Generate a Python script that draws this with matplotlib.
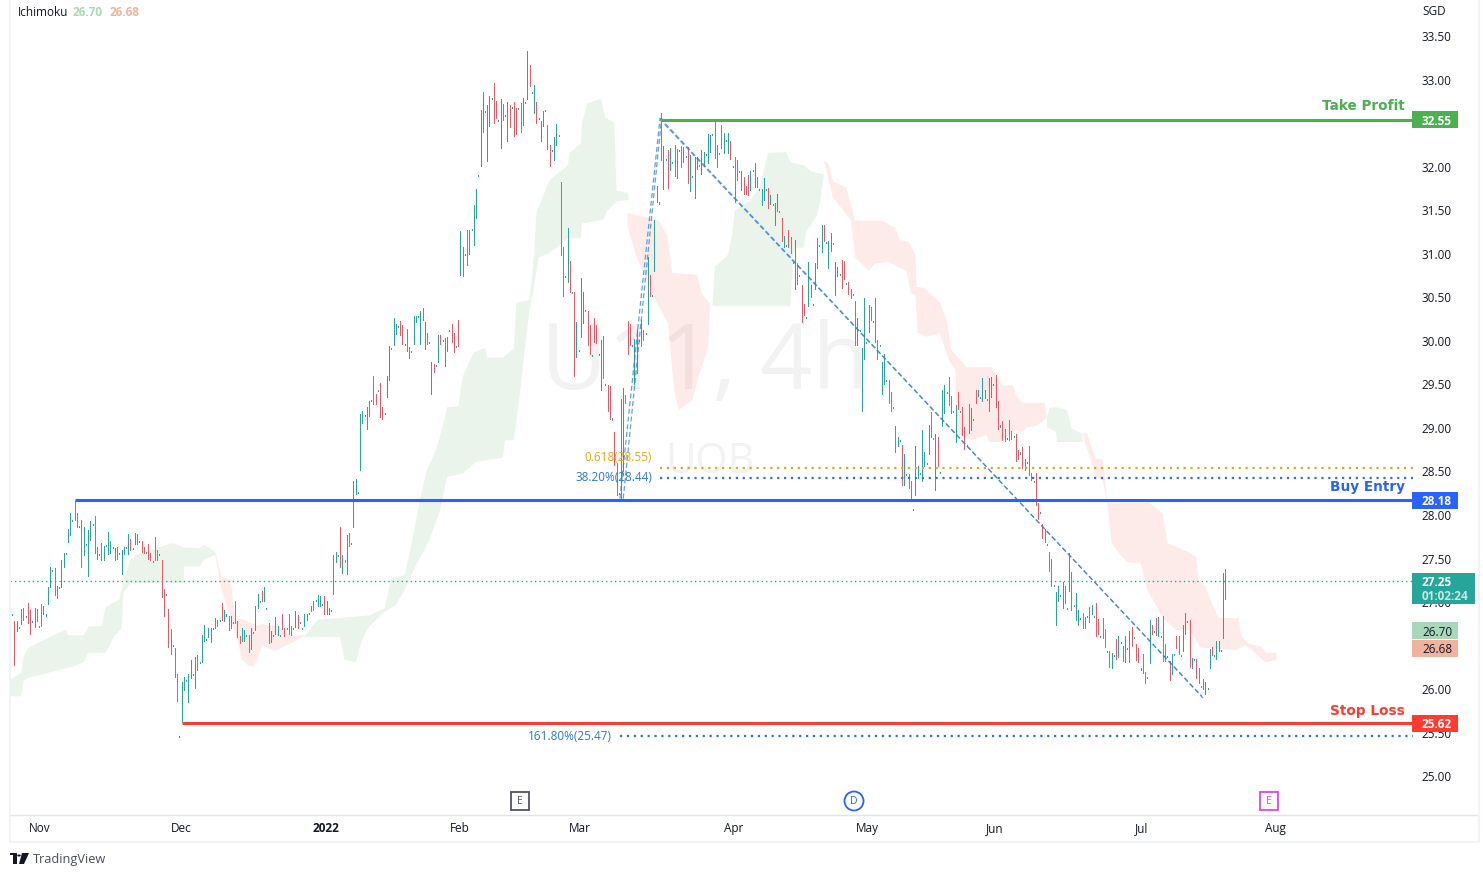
import matplotlib
matplotlib.use("Agg")
import matplotlib.pyplot as plt
from matplotlib.lines import Line2D
from matplotlib.patches import Rectangle, Polygon, Circle, Ellipse
from matplotlib.transforms import ScaledTranslation

# ---------- data ----------
bar_top = [26.92,26.88,26.79,26.80,26.73,26.93,26.95,26.85,27.00,26.92,26.80,26.95,26.93,26.74,26.99,26.97,26.87,27.19,27.41,27.38,
27.40,27.20,27.19,27.50,27.58,27.58,27.85,28.03,27.96,28.17,28.04,27.89,27.96,27.87,27.68,27.84,27.94,27.91,28.00,27.65,
27.57,27.69,27.66,27.67,27.82,27.71,27.64,27.63,27.65,27.58,27.61,27.65,27.64,27.79,27.74,27.63,27.81,27.79,27.71,27.71,
27.64,27.59,27.68,27.58,27.48,27.76,27.61,27.56,27.50,27.16,27.11,26.93,26.70,26.52,26.49,26.19,25.47,26.10,26.15,26.12,
26.19,26.35,26.19,26.38,26.40,26.32,26.64,26.75,26.59,26.71,26.71,26.71,26.83,26.81,26.81,27.00,26.92,26.87,26.85,26.85,
26.78,27.02,26.80,26.62,26.72,26.69,26.63,26.64,26.71,26.67,26.97,27.11,27.03,27.14,27.18,26.95,26.77,26.68,26.64,26.84,
26.74,26.64,26.88,26.72,26.72,26.88,26.74,26.72,26.91,26.86,26.78,26.72,26.88,26.87,26.89,26.97,27.03,27.04,27.09,27.08,
26.99,27.08,27.03,26.95,26.92,27.55,27.59,27.55,27.88,27.55,27.49,27.78,27.80,27.69,28.40,28.43,28.28,29.17,29.21,29.16,
29.25,29.32,29.33,29.61,29.40,29.45,29.53,29.25,29.18,29.61,29.95,29.93,30.27,30.21,30.18,30.24,30.19,29.98,30.15,29.94,
29.89,30.30,30.30,30.30,30.35,30.39,30.23,30.10,30.00,29.77,29.75,29.73,30.08,30.08,30.02,30.04,30.06,30.14,30.21,30.10,
29.95,30.25,31.27,31.09,31.01,31.28,31.28,31.30,31.57,31.76,31.92,32.66,32.87,32.65,32.72,32.82,32.80,32.97,32.77,32.55,
32.79,32.73,32.60,32.75,32.72,32.70,32.75,32.69,32.68,32.74,32.80,32.75,33.34,33.18,32.87,32.95,32.75,32.57,32.54,32.65,
32.66,32.49,32.26,32.20,32.35,32.50,32.38,31.84,31.09,30.76,31.31,30.93,30.57,30.57,30.23,29.91,30.73,30.57,30.37,30.35,
30.19,29.85,30.27,30.19,29.86,30.02,30.07,29.52,29.50,29.49,29.12,28.97,28.61,28.27,29.34,29.47,29.39,30.24,30.21,29.96,
30.03,30.15,30.02,30.25,30.14,30.10,30.97,30.77,30.54,31.40,31.79,31.60,32.63,32.25,32.10,32.20,32.23,32.07,32.26,32.21,
32.20,32.25,32.24,32.13,32.24,32.15,31.90,32.12,32.12,32.03,32.20,32.18,32.16,32.39,32.38,32.39,32.56,32.26,32.17,32.49,
32.40,32.32,32.40,32.31,32.02,32.12,32.09,31.96,31.96,31.89,31.79,31.92,31.96,31.97,32.05,31.89,31.75,31.76,31.88,31.76,
31.77,31.69,31.58,31.59,31.70,31.50,31.42,31.22,31.11,31.28,31.20,30.92,31.17,30.91,30.77,30.65,30.44,30.29,30.92,30.65,
30.43,30.91,31.19,31.11,31.34,31.34,31.15,31.16,31.25,31.13,30.92,30.86,30.78,30.94,30.93,30.68,30.69,30.61,30.55,30.47,
30.27,30.14,29.93,30.50,30.00,30.42,30.40,30.24,30.50,30.02,29.96,29.77,29.86,29.56,29.56,29.42,29.25,29.03,28.91,28.87,
28.81,28.71,28.48,28.48,28.40,28.08,28.80,28.58,28.49,28.99,28.73,28.61,29.05,29.20,28.90,28.94,28.91,28.51,29.45,29.50,
29.42,29.60,29.38,29.21,29.28,29.42,29.21,29.25,29.02,28.82,29.29,29.24,29.11,29.45,29.45,29.37,29.59,29.45,29.34,29.59,
29.60,29.52,29.62,29.32,29.04,29.09,29.00,28.90,29.10,28.98,28.92,28.94,28.76,28.73,28.79,28.66,28.62,28.80,28.49,28.40,
28.49,28.15,28.05,27.91,27.85,27.68,27.59,27.51,27.21,27.13,27.20,27.09,27.24,27.20,26.95,27.58,27.36,26.98,27.12,26.92,
26.83,26.89,26.84,26.85,26.96,26.98,26.85,27.00,26.82,26.62,26.83,26.70,26.45,26.45,26.43,26.40,26.59,26.62,26.55,26.51,
26.62,26.49,26.68,26.73,26.61,26.53,26.49,26.25,26.42,26.21,26.15,26.81,26.75,26.68,26.83,26.84,26.62,26.85,26.53,26.39,
26.34,26.42,26.42,26.62,26.62,26.41,26.75,26.89,26.80,26.81,26.37,26.36,26.36,26.26,26.05,26.13,26.10,26.03,26.47,26.50,
26.41,26.57,26.57,26.46,27.35,27.39]
bar_bot = [26.81,26.88,26.29,26.68,26.73,26.76,26.81,26.85,26.77,26.65,26.80,26.73,26.80,26.74,26.74,26.88,26.87,26.99,27.18,27.38,
27.09,27.06,27.19,27.19,27.42,27.58,27.70,27.78,27.96,27.96,27.88,27.89,27.42,27.55,27.68,27.31,27.72,27.91,27.58,27.51,
27.57,27.50,27.49,27.67,27.56,27.58,27.64,27.49,27.51,27.58,27.34,27.56,27.64,27.56,27.61,27.63,27.68,27.68,27.71,27.59,
27.58,27.59,27.51,27.49,27.48,27.50,27.50,27.56,27.07,26.85,27.11,26.50,26.42,26.52,26.15,25.88,25.47,25.64,26.00,26.12,
25.86,26.14,26.19,26.03,26.23,26.32,26.33,26.57,26.59,26.61,26.55,26.71,26.71,26.74,26.81,26.81,26.79,26.87,26.69,26.71,
26.78,26.77,26.61,26.54,26.56,26.56,26.63,26.44,26.47,26.67,26.69,26.94,27.03,27.02,27.02,26.95,26.54,26.55,26.64,26.65,
26.64,26.64,26.70,26.62,26.72,26.65,26.64,26.72,26.73,26.72,26.78,26.72,26.74,26.81,26.89,26.91,26.92,27.04,26.97,26.97,
26.99,26.88,26.88,26.87,26.92,27.11,27.47,27.55,27.41,27.35,27.49,27.34,27.66,27.69,27.88,28.25,28.28,28.53,29.07,29.16,
29.00,29.15,29.33,29.29,29.29,29.45,29.14,29.11,29.18,29.37,29.56,29.93,29.96,30.09,30.18,30.08,29.98,29.98,29.90,29.82,
29.89,29.98,30.23,30.30,29.98,30.25,29.92,29.98,30.00,29.40,29.65,29.73,29.77,29.98,30.02,29.72,29.90,30.14,30.00,29.88,
29.95,29.95,30.77,30.76,31.01,30.88,31.01,31.30,31.11,31.42,31.92,32.02,32.41,32.65,32.08,32.48,32.80,32.51,32.57,32.55,
32.23,32.55,32.60,32.31,32.47,32.70,32.36,32.39,32.68,32.41,32.49,32.75,32.79,32.94,32.87,32.63,32.51,32.57,32.31,32.48,
32.66,32.21,32.02,32.20,32.09,32.26,32.38,31.00,30.53,30.76,30.69,30.57,30.57,29.61,29.83,29.91,30.06,30.22,30.37,29.96,
29.86,29.85,30.00,29.99,29.86,29.45,29.59,29.52,29.21,29.11,29.12,28.59,28.24,28.27,28.18,28.52,29.30,29.86,29.96,29.96,
29.52,29.64,30.02,29.95,30.02,30.10,30.21,30.53,30.54,30.81,31.61,31.60,32.09,31.76,32.10,31.77,31.97,32.07,31.90,31.88,
32.20,32.01,32.06,32.13,31.82,31.73,31.90,31.65,31.98,32.03,31.93,32.02,32.16,32.05,32.18,32.39,32.11,32.01,32.17,32.23,
32.17,32.32,32.17,32.10,32.02,31.61,31.86,31.96,31.74,31.70,31.70,31.69,31.74,31.97,31.78,31.78,31.75,31.57,31.63,31.76,
31.54,31.58,31.58,31.34,31.50,31.50,31.16,31.09,31.11,31.09,31.02,30.92,30.61,30.66,30.77,30.23,30.31,30.29,30.41,30.52,
30.43,30.61,30.85,31.11,31.03,31.16,31.15,30.85,31.04,31.13,30.54,30.76,30.78,30.62,30.72,30.68,30.55,30.50,30.55,29.96,
29.96,30.14,29.21,29.80,30.00,30.11,30.25,30.24,30.00,29.80,29.96,29.40,29.52,29.56,29.30,29.21,29.25,28.73,28.80,28.87,
28.36,28.36,28.48,28.32,28.20,28.08,28.24,28.44,28.49,28.40,28.57,28.61,28.71,28.91,28.90,28.30,28.57,28.51,29.03,29.18,
29.42,29.28,29.18,29.21,28.85,29.23,29.21,28.93,28.77,28.82,28.95,28.99,29.11,29.30,29.38,29.37,29.32,29.36,29.34,29.21,
29.37,29.52,29.25,29.00,29.04,28.87,28.86,28.90,28.87,28.89,28.92,28.63,28.66,28.73,28.55,28.53,28.62,28.47,28.41,28.40,
28.13,27.97,28.05,27.75,27.70,27.68,27.37,27.20,27.21,26.75,27.03,27.09,26.94,27.00,26.95,27.14,26.92,26.98,26.81,26.75,
26.83,26.72,26.72,26.85,26.78,26.88,26.85,26.62,26.65,26.62,26.60,26.50,26.45,26.27,26.26,26.40,26.36,26.38,26.55,26.34,
26.32,26.49,26.32,26.51,26.61,26.35,26.32,26.25,26.20,26.08,26.15,26.31,26.65,26.68,26.63,26.62,26.62,26.34,26.34,26.39,
26.12,26.19,26.42,26.48,26.42,26.41,26.45,26.65,26.80,26.27,26.26,26.36,26.14,26.08,26.05,26.01,25.96,26.03,26.26,26.40,
26.41,26.36,26.45,26.46,26.60,27.05]
# bars drawn red (close below open); every other bar is teal
down_idx = [2,6,8,9,12,14,20,29,30,32,38,41,48,54,57,59,60,62,63,65,66,68,69,71,72,74,75,84,92,95,98,101,102,103,107,113,116,122,123,125,126,129,137,
140,141,148,152,163,164,166,167,175,176,178,179,185,187,190,193,198,199,201,203,205,217,218,221,224,226,227,229,233,236,241,242,247,248,251,253,259,260,262,263,266,
268,269,271,272,276,277,278,284,287,292,295,298,301,304,316,319,323,325,329,330,331,335,340,346,349,350,353,355,356,365,373,374,376,377,379,386,388,389,394,395,397,400,
403,404,413,416,421,422,425,427,428,430,433,437,442,443,445,446,448,449,451,452,454,455,457,458,460,461,463,464,466,467,473,476,481,484,487,488,490,491,493,496,499,
503,505,506,508,509,512,514,517,518,520,523,524,529,532,533,539]

cloud_g1_up = [(0,26.12),(5,26.2),(6,26.38),(8,26.48),(12,26.54),(23,26.67),(25,26.70),(26,26.63),(33,26.63),(35,26.73),(41,26.74),(43,26.96),(49,27.04),(51,27.27),(54,27.50),(57,27.56),(69,27.66),(73,27.69),(78,27.64),(85,27.63),(87,27.67),(92,27.59)]
cloud_g1_lo = [(0,25.93),(5,25.93),(6,26.10),(8,26.14),(17,26.20),(28,26.27),(33,26.32),(35,26.43),(43,26.43),(47,26.63),(50,26.71),(51,27.12),(54,27.23),(78,27.23),(78,27.42),(85,27.42),(87,27.50),(92,27.55)]
cloud_r1_up = [(92,27.59),(95,27.30),(99,27.27),(101,26.81),(104,26.82),(111,26.74),(113,26.76),(120,26.73),(126,26.63),(132,26.63)]
cloud_r1_lo = [(92,27.55),(95,27.15),(99,26.81),(102,26.58),(104,26.35),(107,26.28),(109,26.27),(111,26.35),(113,26.52),(115,26.49),(119,26.45),(126,26.54),(132,26.62)]
cloud_g2_up = [(132,26.62),(138,26.81),(148,26.83),(161,26.86),(168,26.94),(171,27.29),(177,27.32),(180,27.67),(183,28.07),(184,28.22),(187,28.53),(191,28.76),(194,29.03),(196,29.25),(201,29.26),(203,29.60),(208,29.88),(213,29.93),(214,29.82),(221,29.82),(226,29.93),(227,30.45),(233,30.48),(235,30.98),(236,31.48),(242,31.86),(250,32.02),(251,32.17),(256,32.28),(256.5,32.52),(259,32.74),(265,32.79),(267,32.58),(271,32.51),(272,31.74),(277,31.71),(277.5,31.63)]
cloud_g2_lo = [(132,26.61),(148,26.61),(150,26.35),(155,26.32),(158,26.58),(161,26.73),(168,26.90),(173,26.98),(177,27.15),(181,27.38),(188,27.72),(193,28.07),(194,28.22),(196,28.45),(203,28.49),(209,28.62),(221,28.67),(222,28.87),(226,28.87),(229,29.48),(231,29.94),(233,30.37),(235,30.63),(237,30.97),(242,31.02),(245,31.08),(250,31.19),(256,31.19),(256.5,31.36),(266,31.40),(268,31.51),(272,31.61),(277.5,31.63)]
cloud_r2_up = [(277,31.48),(291,31.39),(295,31.20),(297,30.79),(308,30.77),(310,30.57),(314,30.43)]
cloud_r2_lo = [(277,31.32),(281,30.97),(290,30.45),(295,30.22),(298,29.41),(300,29.22),(306,29.33),(309,29.62),(313,29.93),(314,30.43)]
cloud_g3_up = [(315,30.42),(316,30.86),(322,31.0),(324,31.26),(325,31.51),(332,31.63),(336,31.77),(340,32.17),(348,32.18),(350,32.06),(356,32.03),(359,31.96),(365,31.92)]
cloud_g3_lo = [(315,30.41),(350,30.41),(351,30.94),(352,31.08),(356,31.08),(357,31.26),(362,31.46),(363,31.57),(365,31.92)]
cloud_r3_up = [(365,32.08),(367,32.05),(369,31.84),(375,31.77),(379,31.39),(391,31.39),(397,31.31),(399,31.17),(403,31.15),(406,31.0),(406.5,30.63),(410,30.62),(413,30.54),(417,30.45),(420,30.25),(422,29.91),(429,29.71),(440,29.71),(445,29.50),(450,29.50),(451,29.39),(454,29.30),(464,29.30),(465,29.13)]
cloud_r3_lo = [(366,31.97),(369,31.66),(377,31.40),(379,30.97),(385,30.82),(388,30.90),(394,30.92),(398,30.86),(402,30.82),(404,30.56),(406,30.54),(407,30.11),(411,30.06),(417,30.10),(421,29.79),(424,29.68),(424.5,29.07),(426,28.93),(431,28.87),(438,28.93),(439,28.85),(444,28.85),(451,28.99),(454,28.96),(456,29.02),(460,29.03),(465,29.13)]
cloud_g4_up = [(465,29.13),(466,29.24),(469,29.25),(474,29.22),(476,29.01),(481,28.94)]
cloud_g4_lo = [(465,29.02),(469,28.97),(469.5,28.85),(481,28.85)]
cloud_r4_up = [(481,28.95),(483,28.95),(485,28.79),(487,28.66),(490,28.65),(491,28.45),(492,28.15),(511,28.15),(517,28.03),(519,27.69),(528,27.59),(532,27.53),(533,27.27),(536,27.19),(539,27.00),(542,26.83),(551,26.83),(552,26.63),(555,26.54),(561,26.50),(563,26.43),(568,26.43)]
cloud_r4_lo = [(482,28.85),(484,28.70),(487,28.45),(490,28.41),(492,28.15),(494,27.69),(498,27.55),(501,27.47),(507,27.46),(510,27.15),(512,27.06),(517,26.83),(523,26.69),(529,26.69),(534,26.49),(550,26.46),(554,26.52),(557,26.46),(563,26.32),(568,26.35)]

month_pos = [13.5,76.7,141.7,201.8,255.6,324.7,384.5,441.8,507.4,567.3]
month_labels = ["Nov","Dec","2022","Feb","Mar","Apr","May","Jun","Jul","Aug"]
# 32.50 and 26.50 sit fully behind price badges in the reference, so they are not listed
price_ticks = [25.0,25.5,26.0,27.0,27.5,28.0,28.5,29.0,29.5,30.0,30.5,31.0,31.5,32.0,33.0,33.5]

take_profit, buy_entry, stop_loss = 32.55, 28.18, 25.62
last_price, senkou_a, senkou_b = 27.25, 26.70, 26.68
fib_618, fib_382, fib_1618 = 28.55, 28.44, 25.47
leg_up_a = [(273.5,28.20),(291.5,32.57)]
leg_up_b = [(275.0,28.20),(292.2,32.57)]
leg_dn_a = [(291.5,32.57),(535,25.91)]
leg_dn_b = [(293.5,32.50),(534.5,25.93)]

# ---------- style ----------
plt.rcParams["font.family"] = ["Open Sans", "DejaVu Sans"]
TEAL, RED = "#26a69a", "#f7525f"
FS = 8.5
W, H = 1483, 877
PXX, PXY = 2.23, 87.1
fig = plt.figure(figsize=(W/100, H/100), dpi=100, facecolor="white")
ax = fig.add_axes([10/W, 1-815/H, 1403/W, 815/H])
ax.set_xlim(0, 1403/PXX)
ax.set_ylim(33.5-778/PXY, 33.5+37/PXY)
for s in ax.spines.values():
    s.set_visible(False)
ax.yaxis.tick_right()
ax.set_yticks(price_ticks)
ax.set_yticklabels([f"{p:.2f}" for p in price_ticks], fontsize=FS, color="#131722")
ax.tick_params(axis="y", length=0, pad=6)
ax.set_xticks(month_pos)
ax.set_xticklabels(month_labels, fontsize=FS, color="#131722")
ax.tick_params(axis="x", length=0, pad=4.8)
for lab in ax.get_xticklabels():
    if lab.get_text() == "2022":
        lab.set_fontweight("bold")
up1px = ScaledTranslation(0, 1/100, fig.dpi_scale_trans)
for lab in ax.get_yticklabels():
    lab.set_transform(lab.get_transform() + up1px)

# watermark
ax.text(311.6, 29.73, "U11, 4h", fontsize=66, color="#f2f2f3", ha="center", va="center", zorder=0, family="Open Sans")
ax.text(314, 28.62, "UOB", fontsize=30, color="#f2f2f3", ha="center", va="center", zorder=0, family="Open Sans")

# cloud (translucent, so the watermark shows through)
def cloud(up, lo, col):
    ax.add_patch(Polygon(list(up) + list(reversed(lo)), closed=True, facecolor=col, edgecolor="none", alpha=0.1, zorder=1))
GREEN_C, RED_C = "#3a9a44", "#f23c2e"
for u, l in [(cloud_g1_up, cloud_g1_lo), (cloud_g2_up, cloud_g2_lo), (cloud_g3_up, cloud_g3_lo), (cloud_g4_up, cloud_g4_lo)]:
    cloud(u, l, GREEN_C)
for u, l in [(cloud_r1_up, cloud_r1_lo), (cloud_r2_up, cloud_r2_lo), (cloud_r3_up, cloud_r3_lo), (cloud_r4_up, cloud_r4_lo)]:
    cloud(u, l, RED_C)

# last price dotted line
ax.axhline(last_price, color=TEAL, lw=1, ls=(0, (1, 2.2)), zorder=2)

# bars
down = set(down_idx)
xs_t, t_t, b_t, xs_r, t_r, b_r = [], [], [], [], [], []
for i, (t, b) in enumerate(zip(bar_top, bar_bot)):
    if i in down and t != b:
        xs_r.append(i); t_r.append(t); b_r.append(b)
    else:
        xs_t.append(i); t_t.append(t); b_t.append(b if b != t else t-0.012)
ax.vlines(xs_t, b_t, t_t, color=TEAL, lw=0.5, zorder=3, antialiased=False)
ax.vlines(xs_r, b_r, t_r, color=RED, lw=0.5, zorder=3, antialiased=False)

# fib lines
XMAX = 1403/PXX
DASH = (0, (4, 2.2))
for seg in (leg_up_a, leg_up_b, leg_dn_a, leg_dn_b):
    ax.plot([p[0] for p in seg], [p[1] for p in seg], color="#2f7fdc", lw=0.9, ls=DASH, alpha=0.75, zorder=4)
ax.plot([291.5, XMAX], [fib_618]*2, color="#e8a317", lw=1.6, ls=(0, (1, 2.1)), zorder=4)
ax.plot([291.5, XMAX], [fib_382]*2, color="#2a76d8", lw=1.6, ls=(0, (1, 2.1)), zorder=4)
ax.plot([273.5, XMAX], [fib_1618]*2, color="#2a76d8", lw=1.6, ls=(0, (1, 2.1)), zorder=4)
ax.text(288, fib_618+0.12, "0.618(28.55)", color="#e8a317", fontsize=FS, ha="right", va="center", zorder=5)
ax.text(288, fib_382, "38.20%(28.44)", color="#2a76d8", fontsize=FS, ha="right", va="center", zorder=5)
ax.text(270, fib_1618, "161.80%(25.47)", color="#2a76d8", fontsize=FS, ha="right", va="center", zorder=5)

# levels
BLUE, GREEN, SL = "#2962ff", "#4caf50", "#ff3b30"
ax.plot([291.5, XMAX], [take_profit]*2, color=GREEN, lw=2.2, solid_capstyle="butt", zorder=6)
ax.plot([29, XMAX], [buy_entry]*2, color=BLUE, lw=2.2, solid_capstyle="butt", zorder=6)
ax.plot([77, XMAX], [stop_loss]*2, color=SL, lw=2.2, solid_capstyle="butt", zorder=6)
LBLX = 1394.5/PXX
LFS = 9.8
ax.text(LBLX, take_profit+0.16, "Take Profit", color=GREEN, fontsize=LFS, fontweight="bold", ha="right", va="center", family="DejaVu Sans", zorder=7)
ax.text(LBLX, buy_entry+0.15, "Buy Entry", color=BLUE, fontsize=LFS, fontweight="bold", ha="right", va="center", family="DejaVu Sans", zorder=7)
ax.text(LBLX, stop_loss+0.14, "Stop Loss", color=SL, fontsize=LFS, fontweight="bold", ha="right", va="center", family="DejaVu Sans", zorder=7)

# price badges; the two cloud badges are pushed apart so they do not overlap
def badge(price, txt, col, tcol, w=46, h=17, bold=True, shift=0):
    y = price + shift/PXY
    ax.add_patch(Rectangle((XMAX-0.3, y-h/2/PXY), w/PXX, h/PXY, facecolor=col, edgecolor="none", clip_on=False, zorder=8))
    ax.text(XMAX+9/PXX, y, txt, color=tcol, fontsize=FS, va="center_baseline", ha="left", fontweight="bold" if bold else "normal", clip_on=False, zorder=9)
badge(take_profit, "32.55", GREEN, "white")
badge(buy_entry, "28.18", BLUE, "white")
badge(stop_loss, "25.62", SL, "white")
badge(senkou_a, "26.70", "#a8d8b9", "#131722", bold=False, shift=-1.7)
badge(senkou_b, "26.68", "#f0b49e", "#131722", bold=False, shift=-17)
ax.add_patch(Rectangle((XMAX-0.3, last_price-23/PXY), 63/PXX, 31/PXY, facecolor="#26a69a", edgecolor="none", clip_on=False, zorder=8))
ax.text(XMAX+9/PXX, last_price, "27.25", color="white", fontsize=FS, fontweight="bold", va="center_baseline", clip_on=False, zorder=9)
ax.text(XMAX+9/PXX, last_price-14/PXY, "01:02:24", color="#c5e8e4", fontsize=FS, fontweight="bold", va="center_baseline", clip_on=False, zorder=9)

# top text
fig.text(18/W, 1-13/H, "Ichimoku", fontsize=FS, color="#131722", va="center")
fig.text(73/W, 1-13/H, "26.70", fontsize=FS, color="#a8d8b9", va="center", fontweight="bold")
fig.text(110/W, 1-13/H, "26.68", fontsize=FS, color="#f0b49e", va="center", fontweight="bold")
fig.text(1422/W, 1-11.5/H, "SGD", fontsize=FS, color="#131722", va="center")

# event markers
def px_rect(x, y, w, h, ec):
    fig.add_artist(Rectangle((x/W, 1-(y+h)/H), w/W, h/H, facecolor="white", edgecolor=ec, lw=1.3, transform=fig.transFigure, zorder=5))
px_rect(511, 792, 18, 18, "#50535e")
fig.text(520/W, 1-801/H, "E", fontsize=7.5, color="#50535e", ha="center", va="center", zorder=6)
fig.add_artist(Ellipse((854/W, 1-801/H), 19/W, 19/H, facecolor="white", edgecolor="#2962ff", lw=1.3, transform=fig.transFigure, zorder=5))
fig.text(854/W, 1-801/H, "D", fontsize=7.5, color="#2962ff", ha="center", va="center", zorder=6)
px_rect(1260, 792, 18, 18, "#e040fb")
fig.text(1269/W, 1-801/H, "E", fontsize=7.5, color="#e040fb", ha="center", va="center", zorder=6)

# frame
FR = "#e0e3eb"
fig.add_artist(Line2D([10/W, 1479/W], [1-815/H]*2, color=FR, lw=1))
fig.add_artist(Line2D([10/W, 1479/W], [1-841.5/H]*2, color="#f0f3fa", lw=1.5))
fig.add_artist(Line2D([10/W]*2, [1-841.5/H, 1], color="#f0f3fa", lw=1.5))
fig.add_artist(Line2D([1479/W]*2, [1-841.5/H, 1], color="#f0f3fa", lw=1.5))

# TradingView logo
LG = "#131722"
fig.add_artist(Rectangle((10/W, 1-855/H), 6.5/W, 2.5/H, facecolor=LG, edgecolor="none", transform=fig.transFigure))
fig.add_artist(Rectangle((13/W, 1-864/H), 3.5/W, 9/H, facecolor=LG, edgecolor="none", transform=fig.transFigure))
fig.add_artist(Circle((19/W, 1-855.5/H), 0.0012, facecolor=LG, edgecolor="none", transform=fig.transFigure))
fig.add_artist(Polygon([(22/W,1-853/H),(29/W,1-853/H),(24/W,1-864/H),(19/W,1-864/H)], closed=True, facecolor=LG, edgecolor="none", transform=fig.transFigure))
fig.text(33/W, 1-859/H, "TradingView", fontsize=9.2, color="#4a4e5a", va="center")

fig.savefig("out.png", dpi=100, facecolor="white")
